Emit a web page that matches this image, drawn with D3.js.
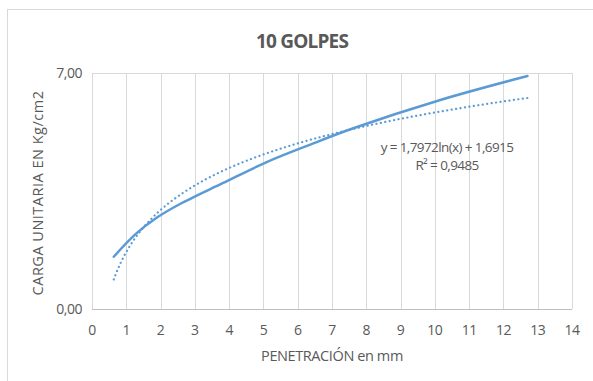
<!DOCTYPE html>
<html>
<head>
<meta charset="utf-8">
<script src="https://cdn.jsdelivr.net/npm/d3@7"></script>
<style>
  body { margin: 0; background: #fff; }
  svg { display: block; }
  text { fill: #595959; }
</style>
</head>
<body>
<div id="chart"></div>
<script>
// penetration (mm) and unit load (kg/cm2)
const penetration = [0.635, 1.27, 1.905, 2.54, 3.81, 5.08, 6.35, 7.62, 10.16, 12.7];
const load = [1.55, 2.22, 2.72, 3.10, 3.73, 4.35, 4.87, 5.36, 6.20, 6.91];
// logarithmic trendline shown on the chart
const trendA = 1.7972;
const trendB = 1.6915;
const trendLabel = "y = 1,7972ln(x) + 1,6915";
const r2Label = "R² = 0,9485";
const xTicks = d3.range(0, 15);
const yTicks = [0, 7];

const W = 593, H = 381;
const margin = { left: 92, right: 21, top: 73, bottom: 72 };

const svg = d3.select('#chart').append('svg')
    .attr('width', W)
    .attr('height', H);

// chart frame
svg.append('rect')
    .attr('x', 7.5).attr('y', 9.5)
    .attr('width', W + 10).attr('height', H + 10)
    .attr('fill', 'none')
    .attr('stroke', '#d9d9d9');

const x = d3.scaleLinear().domain([0, 14]).range([margin.left, W - margin.right]);
const y = d3.scaleLinear().domain([0, 7]).range([H - margin.bottom, margin.top]);

// gridlines
svg.append('g').selectAll('line.v')
    .data(xTicks)
    .enter().append('line')
    .attr('x1', d => Math.round(x(d)) + 0.5).attr('x2', d => Math.round(x(d)) + 0.5)
    .attr('y1', y(0)).attr('y2', y(7))
    .attr('stroke', '#d9d9d9');

svg.append('g').selectAll('line.h')
    .data(yTicks)
    .enter().append('line')
    .attr('x1', x(0)).attr('x2', x(14))
    .attr('y1', d => Math.round(y(d)) + 0.5).attr('y2', d => Math.round(y(d)) + 0.5)
    .attr('stroke', d => d === 0 ? '#bfbfbf' : '#d9d9d9');

// tick labels
const fmt = d => d.toFixed(2).replace('.', ',');
svg.append('g').selectAll('text')
    .data(yTicks)
    .enter().append('text')
    .attr('x', x(0) - 10)
    .attr('y', d => y(d) + 5)
    .attr('text-anchor', 'end')
    .style('font', '14px "Open Sans", sans-serif')
    .attr('letter-spacing', '-0.5')
    .text(fmt);

svg.append('g').selectAll('text')
    .data(xTicks)
    .enter().append('text')
    .attr('x', d => x(d))
    .attr('y', y(0) + 26)
    .attr('text-anchor', 'middle')
    .style('font', '14px "Open Sans", sans-serif')
    .attr('letter-spacing', '-0.5')
    .text(d => d);

// data line
const line = d3.line()
    .x(d => x(d[0]))
    .y(d => y(d[1]))
    .curve(d3.curveCatmullRom.alpha(0.5));

svg.append('path')
    .datum(penetration.map((p, i) => [p, load[i]]))
    .attr('d', line)
    .attr('fill', 'none')
    .attr('stroke', '#5b9bd5')
    .attr('stroke-width', 2.5)
    .attr('stroke-linecap', 'round');

// trendline
const trendX = d3.range(0, 201).map(i => penetration[0] + (penetration[penetration.length - 1] - penetration[0]) * i / 200);
svg.append('path')
    .datum(trendX.map(v => [v, trendA * Math.log(v) + trendB]))
    .attr('d', d3.line().x(d => x(d[0])).y(d => y(d[1])))
    .attr('fill', 'none')
    .attr('stroke', '#5b9bd5')
    .attr('stroke-width', 2.2)
    .attr('stroke-linecap', 'round')
    .attr('stroke-dasharray', '0.1 4.4');

// equation
svg.append('text')
    .attr('x', 447).attr('y', 152)
    .attr('text-anchor', 'middle')
    .style('font', '13.5px "Open Sans", sans-serif')
    .attr('letter-spacing', '-0.6')
    .text(trendLabel);
svg.append('text')
    .attr('x', 447).attr('y', 170)
    .attr('text-anchor', 'middle')
    .style('font', '13.5px "Open Sans", sans-serif')
    .attr('letter-spacing', '-0.6')
    .text(r2Label);

// titles
svg.append('text')
    .attr('x', 302).attr('y', 48)
    .attr('text-anchor', 'middle')
    .style('font', 'bold 19px "Open Sans", sans-serif')
    .attr('letter-spacing', '-0.8')
    .text('10 GOLPES');

svg.append('text')
    .attr('x', 332).attr('y', 361)
    .attr('text-anchor', 'middle')
    .style('font', '14.5px "Open Sans", sans-serif')
    .attr('letter-spacing', '-0.4')
    .text('PENETRACIÓN en mm');

svg.append('text')
    .attr('transform', `translate(43, ${(y(0) + y(7)) / 2 + 2}) rotate(-90)`)
    .attr('text-anchor', 'middle')
    .style('font', '14.5px "Open Sans", sans-serif')
    .attr('letter-spacing', '0.5')
    .text('CARGA UNITARIA EN Kg/cm2');
</script>
</body>
</html>
